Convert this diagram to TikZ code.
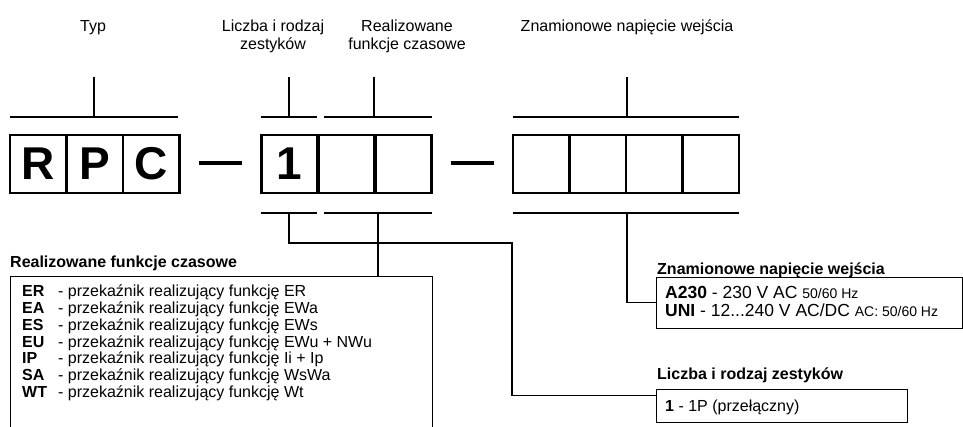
\documentclass[tikz,border=0pt]{standalone}
\usepackage{fontspec}
\setmainfont{Liberation Sans}
\usetikzlibrary{positioning,calc}

\begin{document}
\begin{tikzpicture}[x=1pt,y=-1pt,
        cell/.style={draw,line width=2.7pt,minimum width=56.5pt,minimum height=58pt,
                     inner sep=0pt,outer sep=0pt,font=\fontsize{46}{46}\selectfont\bfseries},
        bar/.style={fill,minimum width=43pt,minimum height=4pt,inner sep=0pt},
        lbl/.style={font=\fontsize{16}{18}\selectfont,align=center,anchor=north,inner sep=0pt},
        head/.style={font=\fontsize{16}{18}\selectfont\bfseries,anchor=north west,inner sep=0pt},
        txt/.style={font=\fontsize{16}{16.7}\selectfont,align=left,anchor=north west,inner sep=0pt},
        frame/.style={draw,line width=0.9pt,anchor=north west,inner sep=0pt,outer sep=0pt},
        brk/.style={line width=1.3pt}]
        \useasboundingbox (0,0) rectangle (963,427);
        % kod: typ, zestyki + funkcje, napiecie
        \foreach \i/\t in {1/R,2/P,3/C}{
          \node[cell] (t\i) at (10+56.5*\i-28.25,164) {\t};
        }
        \foreach \i/\t in {1/1,2/,3/}{
          \node[cell] (n\i) at (261+57*\i-28.5,164) {\t};
        }
        \foreach \i in {1,2,3,4}{
          \node[cell] (u\i) at (513+56.5*\i-28.25,164) {};
        }
        \node[bar] (d1) at (220.5,163) {};
        \node[bar] (d2) at (472.5,163) {};
        % opisy u gory
        \node[lbl] (typ) at (93,20) {Typ};
        \node[lbl] (lz) at (273,20) {Liczba i rodzaj\\zestyków};
        \node[lbl] (fc) at (407,20) {Realizowane\\funkcje czasowe};
        \node[lbl] (zn) at (627,20) {Znamionowe napięcie wejścia};
        % klamry u gory
        \coordinate (typtick) at (94,117);
        \coordinate (lztick) at (289,117);
        \coordinate (fctick) at (374,117);
        \coordinate (zntick) at (627,117);
        \draw[brk] (10,117) -- (178,117);
        \draw[brk] (261,117) -- (317,117);
        \draw[brk] (324,117) -- (432,117);
        \draw[brk] (513,117) -- (739,117);
        \foreach \c in {typtick,lztick,fctick,zntick}
          \draw[brk] (\c) -- ++(0,-40);
        % klamry u dolu
        \coordinate (lzlow) at (289,213);
        \coordinate (fclow) at (378,213);
        \coordinate (znlow) at (627,213);
        \draw[brk] (261,213) -- (317,213);
        \draw[brk] (324,213) -- (432,213);
        \draw[brk] (513,213) -- (739,213);
        % ramki z opisami
        \node[frame,minimum width=422pt,minimum height=190pt] (fbox) at (10,276) {};
        \node[frame,minimum width=306pt,minimum height=51pt] (zbox) at (656,277) {};
        \node[frame,minimum width=251pt,minimum height=33pt] (lbox) at (656,389) {};
        \node[head] (fchead) at (10,256) {Realizowane funkcje czasowe};
        \node[head] (znhead) at (657,263) {Znamionowe napięcie wejścia};
        \node[head] (lzhead) at (657,368) {Liczba i rodzaj zestyków};
        \node[txt] (fclist) at (22,285) {%
          \makebox[36pt][l]{\textbf{ER}}- przekaźnik realizujący funkcję ER\\
          \makebox[36pt][l]{\textbf{EA}}- przekaźnik realizujący funkcję EWa\\
          \makebox[36pt][l]{\textbf{ES}}- przekaźnik realizujący funkcję EWs\\
          \makebox[36pt][l]{\textbf{EU}}- przekaźnik realizujący funkcję EWu + NWu\\
          \makebox[36pt][l]{\textbf{IP}}- przekaźnik realizujący funkcję Ii + Ip\\
          \makebox[36pt][l]{\textbf{SA}}- przekaźnik realizujący funkcję WsWa\\
          \makebox[36pt][l]{\textbf{WT}}- przekaźnik realizujący funkcję Wt};
        \node[txt,font=\fontsize{17.5}{18.4}\selectfont] (zntxt) at (665,286) {%
          \textbf{A230} - 230 V AC {\fontsize{14}{14}\selectfont 50/60 Hz}\\
          \textbf{UNI} - 12...240 V AC/DC {\fontsize{14}{14}\selectfont AC: 50/60 Hz}};
        \node[txt] (lztxt) at (665,400) {\textbf{1} - 1P (przełączny)};
        % polaczenia
        \draw[brk] (lzlow) |- ++(223,30) |- ([yshift=10pt]lbox.west);
        \draw[brk] (fclow) -- (fclow |- fbox.north);
        \draw[brk] (znlow) |- (zbox.west);
      \end{tikzpicture}
\end{document}
